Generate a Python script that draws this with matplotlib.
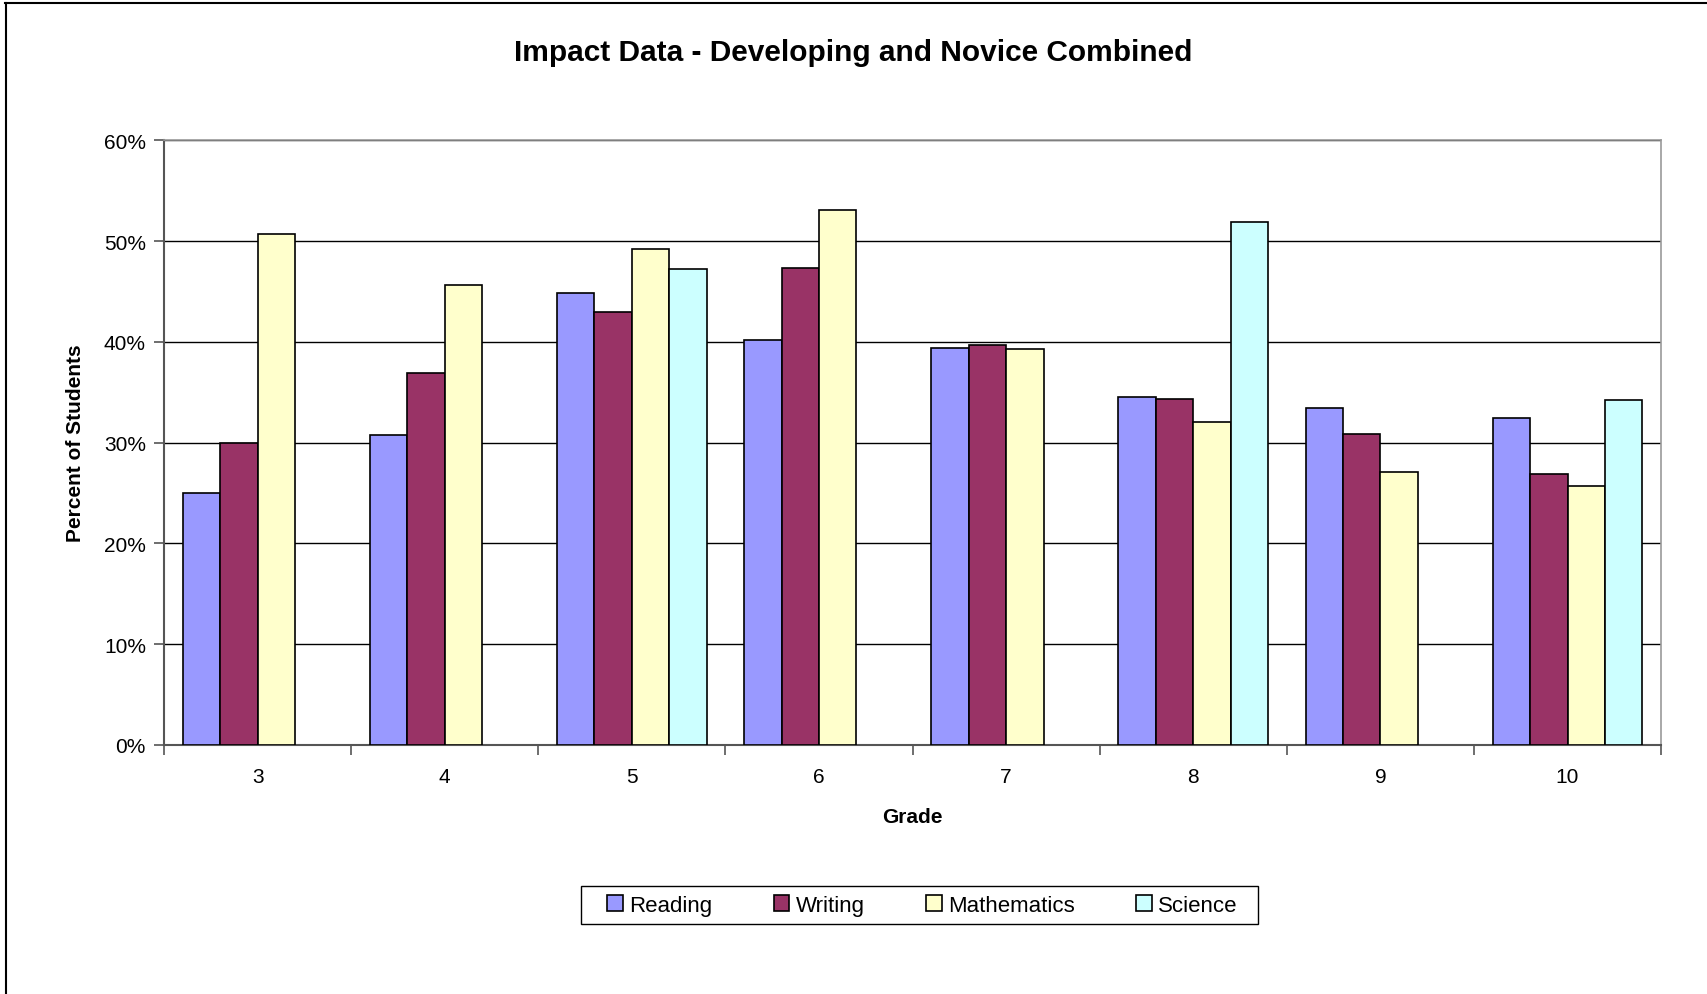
import numpy as np
import matplotlib
matplotlib.use('Agg')
import matplotlib.pyplot as plt
from matplotlib.ticker import PercentFormatter, FixedLocator, NullFormatter
from matplotlib.lines import Line2D
from matplotlib.patches import Rectangle

plt.rcParams['font.family'] = ['Liberation Sans', 'DejaVu Sans']

# data (percent)
grades = ['3', '4', '5', '6', '7', '8', '9', '10']
reading = [25.0, 30.8, 44.9, 40.2, 39.4, 34.5, 33.4, 32.4]
writing = [30.0, 36.9, 43.0, 47.3, 39.7, 34.3, 30.9, 26.9]
mathematics = [50.7, 45.7, 49.2, 53.1, 39.3, 32.0, 27.1, 25.7]
science = [np.nan, np.nan, 47.2, np.nan, np.nan, 51.9, np.nan, 34.2]

series = [('Reading', reading, '#9999FF'),
          ('Writing', writing, '#993366'),
          ('Mathematics', mathematics, '#FFFFCC'),
          ('Science', science, '#CCFFFF')]

fig = plt.figure(figsize=(17.07, 9.95), dpi=100)
ax = fig.add_axes([0.0961, 0.2505, 0.8770, 0.6073])

x = np.arange(len(grades))
w = 0.2
for i, (name, vals, col) in enumerate(series):
    ax.bar(x + (i - 1.5) * w, vals, width=w, color=col, edgecolor='black',
           linewidth=1.2, label=name, zorder=3)

ax.set_xlim(-0.5, len(grades) - 0.5)
ax.set_ylim(0, 60)
ax.set_yticks(np.arange(0, 61, 10))
ax.yaxis.set_major_formatter(PercentFormatter(decimals=0))
ax.yaxis.grid(True, color='black', linewidth=1.0, zorder=0)

# category labels at centres, tick marks between groups
ax.set_xticks(x)
ax.set_xticklabels(grades)
ax.tick_params(axis='x', which='major', length=0, pad=16, labelsize=15)
ax.xaxis.set_minor_locator(FixedLocator(np.arange(-0.5, len(grades), 1)))
ax.xaxis.set_minor_formatter(NullFormatter())
ax.tick_params(axis='x', which='minor', length=7, width=1.2, color='#555555', direction='out')
ax.tick_params(axis='y', length=7, width=1.2, color='#555555', labelsize=15, pad=6)

for s in ['top', 'right']:
    ax.spines[s].set_color('#999999')
    ax.spines[s].set_linewidth(1.2)
for s in ['left', 'bottom']:
    ax.spines[s].set_color('#555555')
    ax.spines[s].set_linewidth(1.5)

ax.set_xlabel('Grade', fontsize=15, fontweight='bold', labelpad=15)
ax.set_ylabel('Percent of Students', fontsize=15, fontweight='bold', labelpad=14)
fig.text(0.5, 0.947, 'Impact Data - Developing and Novice Combined', ha='center', va='center',
         fontsize=21.5, fontweight='bold')

# legend entries without frame, box drawn separately
leg = fig.legend(loc='center', bbox_to_anchor=(0.5405, 0.0892), ncol=4, fontsize=16,
                 frameon=False, handlelength=0.7, handleheight=0.7,
                 columnspacing=2.75, handletextpad=0.3)
fig.add_artist(Rectangle((0.3404, 0.0699), 0.3964, 0.0386, transform=fig.transFigure,
                         fill=False, edgecolor='black', linewidth=1.0))

# outer chart border (top and left visible)
fig.add_artist(Line2D([0.003, 1.0], [0.996, 0.996], color='black', linewidth=1.5, transform=fig.transFigure))
fig.add_artist(Line2D([0.0035, 0.0035], [0.0, 0.996], color='black', linewidth=1.5, transform=fig.transFigure))

fig.savefig('out.png', dpi=100)
